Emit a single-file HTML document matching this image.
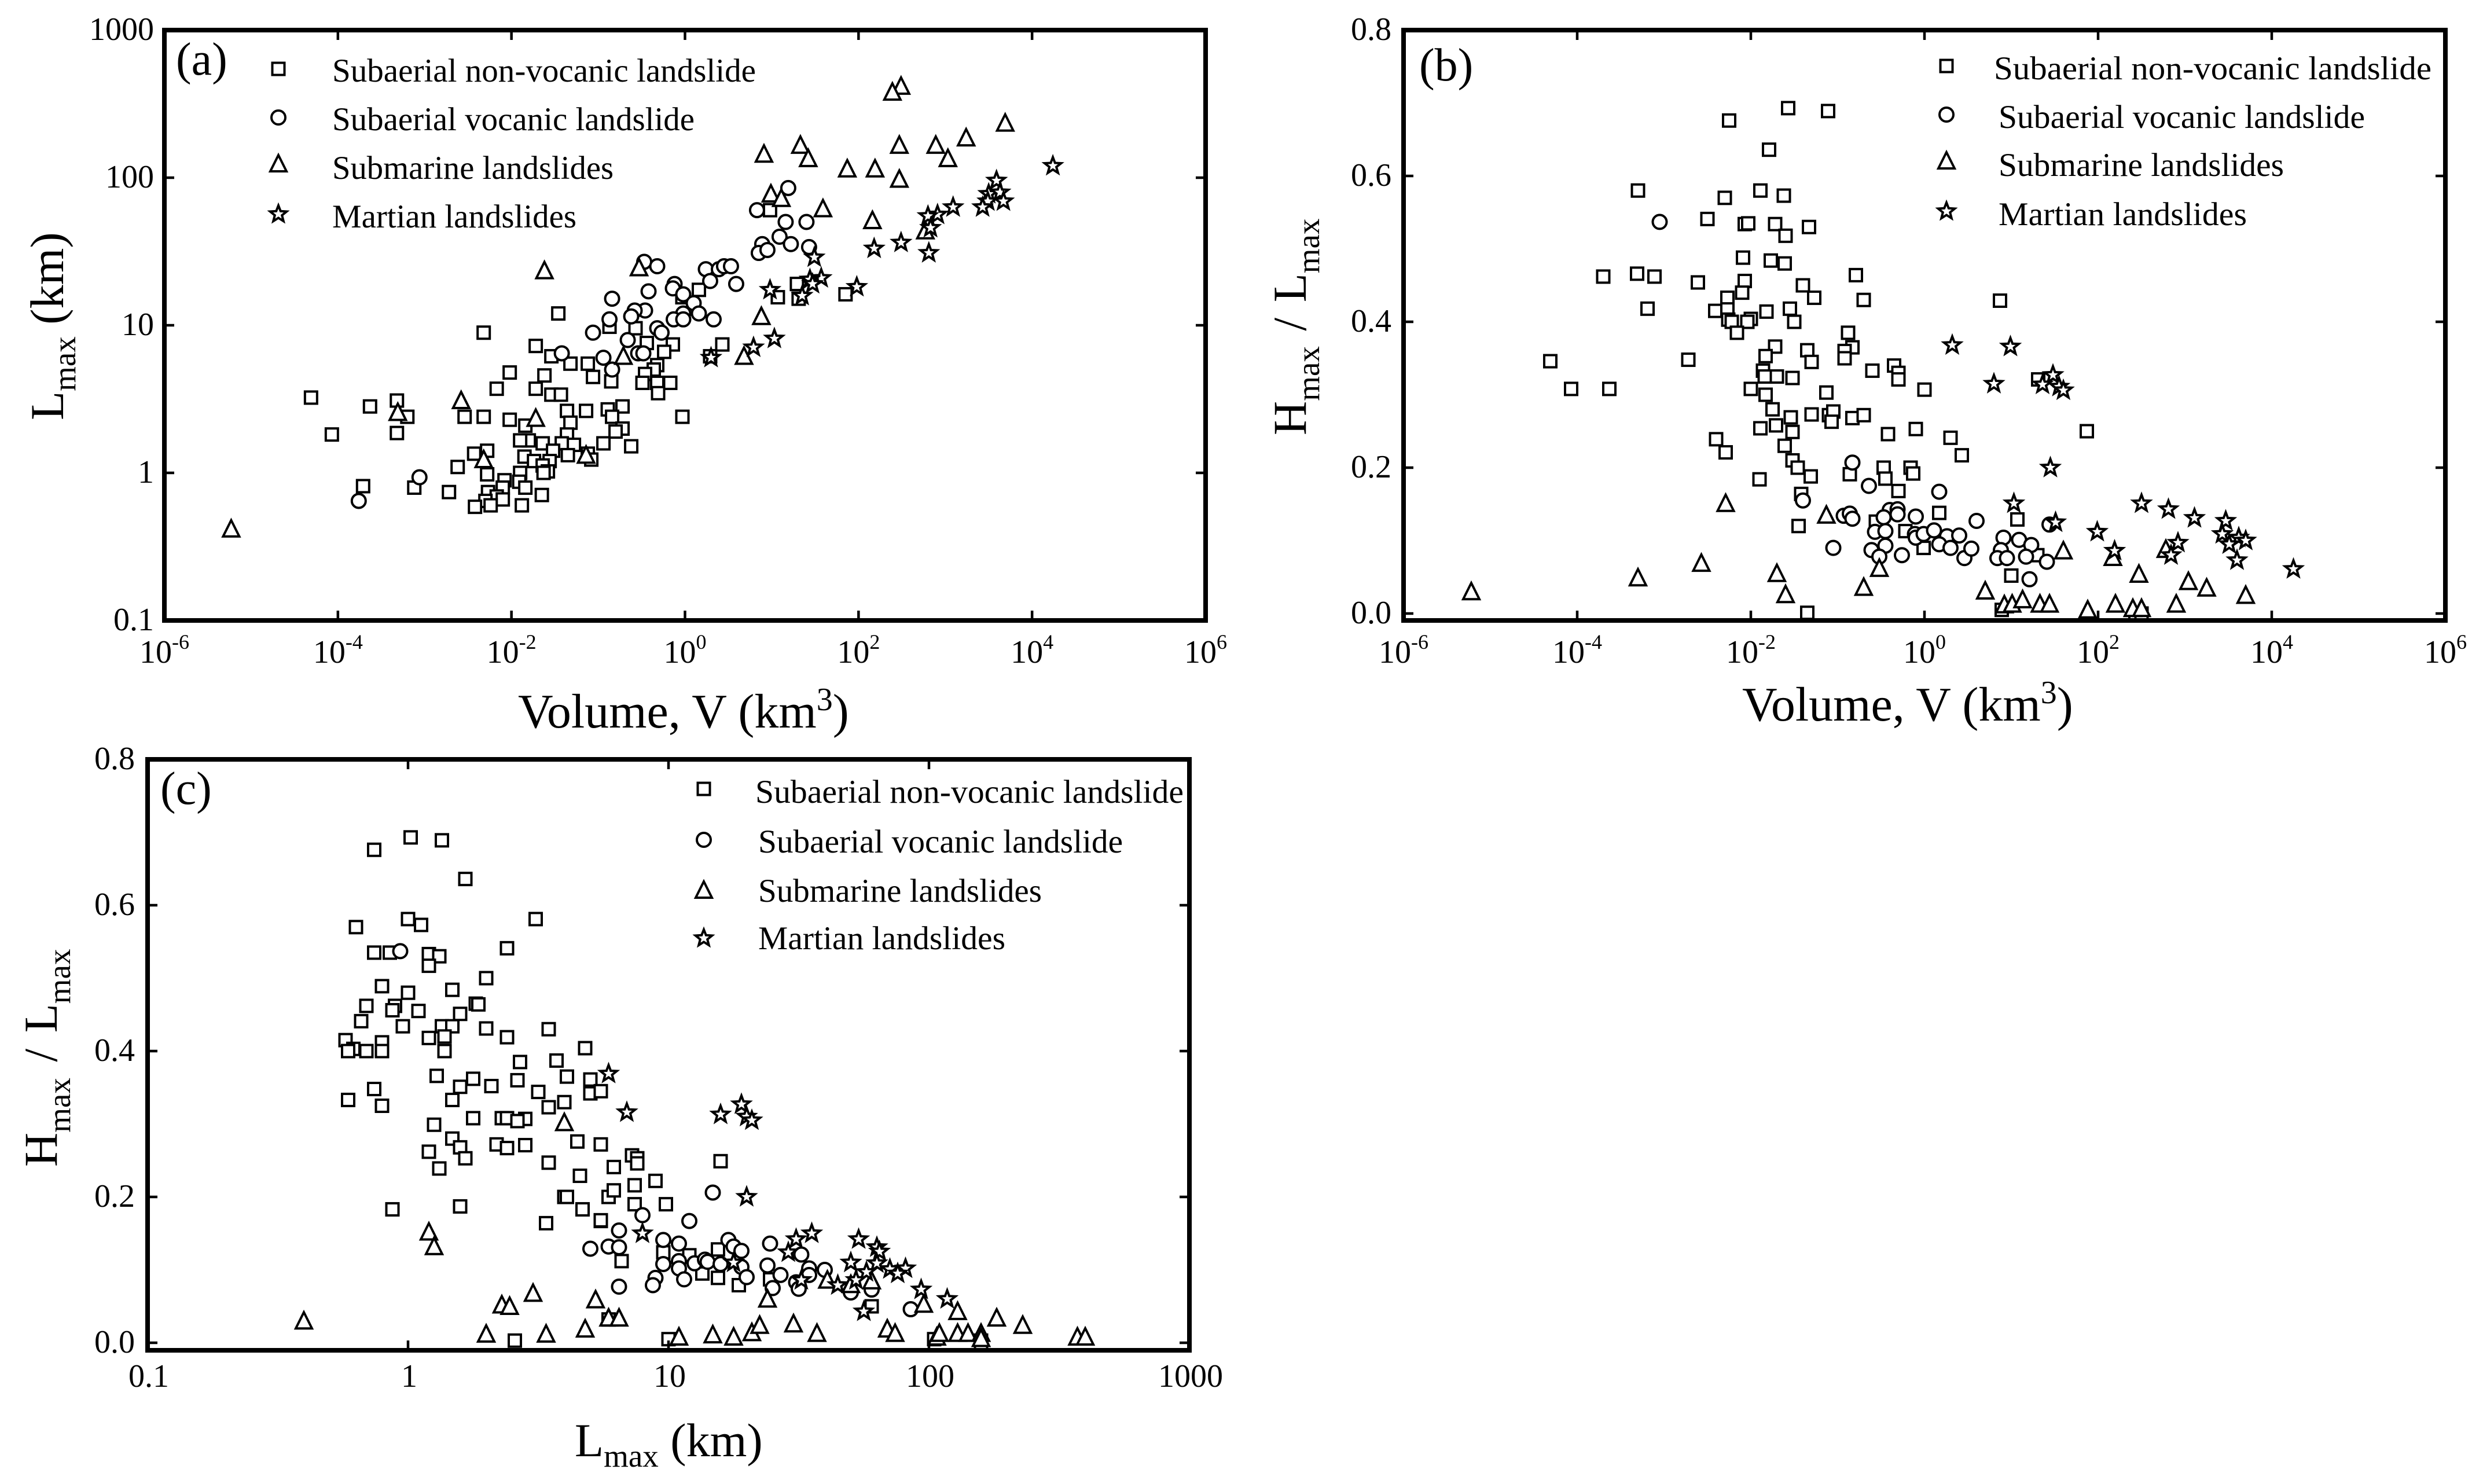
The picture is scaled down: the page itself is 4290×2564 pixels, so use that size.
<!DOCTYPE html>
<html lang="en">
<head>
<meta charset="utf-8">
<title>Landslide runout scatter panels</title>
<style>
html,body{margin:0;padding:0;background:#fff;}
svg{display:block;}
text{font-family:"Liberation Serif",serif;fill:#000;}
.frame{fill:none;stroke:#000;stroke-width:8;}
.lg{fill:#fff;stroke:#000;stroke-width:4;}
</style>
</head>
<body>
<svg id="chart" xmlns="http://www.w3.org/2000/svg" width="4290" height="2564" viewBox="0 0 4290 2564">
<rect x="0" y="0" width="4290" height="2564" fill="#fff"/>

<g id="panel-a"></g>
<g id="panel-b"></g>
<g id="panel-c"></g>

<!-- Panel a annotations -->
<g>
<text x="304" y="129" font-size="80">(a)</text>
<rect class="lg" x="470.5" y="108.5" width="21" height="21"/>
<circle class="lg" cx="481" cy="203" r="12"/>
<path class="lg" d="M481 268L495 296L467 296Z"/>
<path class="lg" d="M481 355L484.8 364.8L495.3 365.4L487.2 372L489.8 382.1L481 376.5L472.2 382.1L474.8 372L466.7 365.4L477.2 364.8Z"/>
<text x="574" y="141" font-size="57" textLength="732" lengthAdjust="spacingAndGlyphs">Subaerial non-vocanic landslide</text>
<text x="574" y="225" font-size="57" textLength="626" lengthAdjust="spacingAndGlyphs">Subaerial vocanic landslide</text>
<text x="574" y="309" font-size="57" textLength="486" lengthAdjust="spacingAndGlyphs">Submarine landslides</text>
<text x="574" y="393" font-size="57" textLength="422" lengthAdjust="spacingAndGlyphs">Martian landslides</text>
<text x="895" y="1257" font-size="84">Volume, V (km<tspan font-size="56" dy="-30">3</tspan><tspan dy="30">)</tspan></text>
<text x="109" y="726" font-size="82" transform="rotate(-90 109 726)">L<tspan font-size="55" dy="21">max</tspan><tspan dy="-21"> (km)</tspan></text>
</g>

<!-- Panel b annotations -->
<g>
<text x="2452" y="139" font-size="80">(b)</text>
<rect class="lg" x="3352.5" y="103.5" width="21" height="21"/>
<circle class="lg" cx="3363" cy="198" r="12"/>
<path class="lg" d="M3363 263L3377 291L3349 291Z"/>
<path class="lg" d="M3363 350L3366.8 359.8L3377.3 360.4L3369.2 367L3371.8 377.1L3363 371.5L3354.2 377.1L3356.8 367L3348.7 360.4L3359.2 359.8Z"/>
<text x="3445" y="137" font-size="57" textLength="756" lengthAdjust="spacingAndGlyphs">Subaerial non-vocanic landslide</text>
<text x="3453" y="221" font-size="57" textLength="633" lengthAdjust="spacingAndGlyphs">Subaerial vocanic landslide</text>
<text x="3453" y="304" font-size="57" textLength="493" lengthAdjust="spacingAndGlyphs">Submarine landslides</text>
<text x="3453" y="389" font-size="57" textLength="429" lengthAdjust="spacingAndGlyphs">Martian landslides</text>
<text x="3010" y="1245" font-size="84">Volume, V (km<tspan font-size="56" dy="-30">3</tspan><tspan dy="30">)</tspan></text>
<text x="2256" y="752" font-size="82" word-spacing="6" transform="rotate(-90 2256 752)">H<tspan font-size="55" dy="23">max</tspan><tspan dy="-23"> / L</tspan><tspan font-size="55" dy="23">max</tspan></text>
</g>

<!-- Panel c annotations -->
<g>
<text x="277" y="1389" font-size="80">(c)</text>
<g transform="translate(-8,-4)">
<rect class="lg" x="1213.5" y="1356.5" width="21" height="21"/>
<circle class="lg" cx="1224" cy="1455" r="12"/>
<path class="lg" d="M1224 1527L1238 1555L1210 1555Z"/>
<path class="lg" d="M1224 1610L1227.8 1619.8L1238.3 1620.4L1230.2 1627L1232.8 1637.1L1224 1631.5L1215.2 1637.1L1217.8 1627L1209.7 1620.4L1220.2 1619.8Z"/>
</g>
<text x="1305" y="1387" font-size="57" textLength="740" lengthAdjust="spacingAndGlyphs">Subaerial non-vocanic landslide</text>
<text x="1310" y="1473" font-size="57" textLength="630" lengthAdjust="spacingAndGlyphs">Subaerial vocanic landslide</text>
<text x="1310" y="1558" font-size="57" textLength="490" lengthAdjust="spacingAndGlyphs">Submarine landslides</text>
<text x="1310" y="1640" font-size="57" textLength="427" lengthAdjust="spacingAndGlyphs">Martian landslides</text>
<text x="993" y="2516" font-size="82">L<tspan font-size="55" dy="18">max</tspan><tspan dy="-18"> (km)</tspan></text>
<text x="98" y="2016" font-size="82" word-spacing="7" transform="rotate(-90 98 2016)">H<tspan font-size="55" dy="23">max</tspan><tspan dy="-23"> / L</tspan><tspan font-size="55" dy="23">max</tspan></text>
</g>
</svg>

<script>
// Tick data
const volumeExponents = [-6, -4, -2, 0, 2, 4, 6];
const lengthTickExponents = [3, 2, 1, 0, -1];
const lengthTickLabels = ['1000', '100', '10', '1', '0.1'];
const ratioTicks = [0.8, 0.6, 0.4, 0.2, 0.0];
const ratioTickLabels = ['0.8', '0.6', '0.4', '0.2', '0.0'];

// Panel (a): log10 Volume (km3) vs log10 Lmax (km)
const aSquareLogV = [-2.32,-1.46,-1.72,-1.54,-1.32,-1.12,-2.02,-1.62,-2.17,-1.72,-1.54,-1.43,-1.06,-0.85,-0.57,-0.87,-0.44,-0.14,-0.24,-0.32,-0.36,-0.46,-0.49,-0.32,-0.17,-0.31,0.43,0.29,0.16,-0.03,
-2.54,-2.32,-2.02,-1.84,-1.36,-1.14,-0.89,-0.72,-0.84,-1.32,-0.72,-0.80,-0.03,-0.94,-0.62,-1.36,-1.42,-1.64,-1.80,-1.90,-1.28,-1.52,-1.35,-1.85,-1.74,-1.56,-1.64,-1.58,-1.63,-1.90,-1.12,-1.08,-2.43,-2.28,-2.62,-2.28,-2.72,-2.08,-2.10,-1.91,-1.84,-1.65,-2.27,-2.17,-2.10,-2.30,-2.24,-2.42,-1.88,
-4.31,-3.63,-3.32,-3.20,-4.07,-3.32,-3.71,-3.12,
0.98,1.07,1.29,1.31,1.85];
const aSquareLogL = [0.95,1.08,0.86,0.79,0.74,0.74,0.68,0.66,0.57,0.57,0.53,0.53,0.65,0.62,0.98,0.99,0.88,0.87,0.82,0.73,0.70,0.67,0.61,0.61,0.61,0.54,0.87,0.79,1.24,1.19,
0.38,0.38,0.36,0.32,0.42,0.42,0.43,0.45,0.38,0.34,0.30,0.28,0.38,0.20,0.18,0.26,0.20,0.20,0.22,0.22,0.19,0.15,0.12,0.11,0.08,0.08,0.05,0.01,0.00,0.00,0.13,0.09,0.13,0.15,0.04,-0.01,-0.13,-0.05,-0.10,-0.06,-0.10,-0.15,-0.13,-0.16,-0.18,-0.19,-0.22,-0.23,-0.22,
0.51,0.45,0.49,0.38,0.26,0.27,-0.09,-0.10,
1.78,1.19,1.28,1.18,1.21];
const aCircleLogV = [-0.84,-0.42,-0.47,-0.32,0.24,0.39,0.45,0.53,0.29,0.59,-0.12,-0.14,-0.02,0.10,-0.02,0.16,-0.13,-0.02,0.33,-0.46,-0.58,-0.62,-0.87,-1.06,-0.32,-0.27,-0.66,-0.54,-0.48,-0.94,-0.84,-1.42,
1.19,0.83,1.16,1.40,1.09,1.22,0.89,0.85,0.95,1.43,-3.76,-3.06];
const aCircleLogL = [1.18,1.23,1.43,1.40,1.38,1.38,1.40,1.40,1.30,1.28,1.28,1.25,1.21,1.15,1.08,1.08,1.04,1.04,1.04,1.10,1.10,1.06,1.04,0.95,0.98,0.95,0.90,0.81,0.81,0.78,0.70,0.81,
1.93,1.78,1.70,1.70,1.60,1.55,1.55,1.49,1.51,1.53,-0.19,-0.03];
const aTriangleLogV = [2.49,2.39,3.69,3.24,1.33,2.47,2.89,0.91,1.42,3.03,1.87,2.19,2.47,0.99,1.11,1.59,2.16,2.77,-0.53,0.88,0.68,-0.71,-1.62,-2.58,-1.72,-2.32,-1.14,-5.23,-3.31];
const aTriangleLogL = [2.62,2.58,2.37,2.27,2.22,2.22,2.22,2.16,2.13,2.13,2.06,2.06,1.99,1.89,1.86,1.79,1.71,1.64,1.39,1.06,0.79,0.79,1.37,0.49,0.37,0.09,0.12,-0.38,0.41];
const aStarLogV = [4.24,3.59,3.50,3.63,3.67,3.49,3.43,3.09,2.91,2.80,2.83,2.49,2.18,2.81,1.49,1.57,1.44,1.47,1.98,0.98,1.35,1.03,0.79,0.30];
const aStarLogL = [2.08,1.98,1.89,1.90,1.84,1.84,1.80,1.80,1.75,1.74,1.66,1.56,1.52,1.49,1.46,1.32,1.31,1.28,1.26,1.24,1.20,0.91,0.85,0.78];

// Panel (b): log10 Volume (km3) vs Hmax / Lmax
const bSquareLogV = [-1.57,-1.11,-2.25,-1.79,-3.30,-1.89,-2.30,-1.62,-2.50,-2.07,-2.03,-1.72,-1.33,-1.60,-2.09,-1.77,-1.61,-3.70,-3.31,-3.11,-2.61,-2.07,-0.79,-1.40,-2.10,-1.27,-0.70,-2.27,-3.19,-1.55,-1.82,-2.41,-2.27,-1.50,-2.00,-2.04,-2.26,-2.22,-2.16,-0.88,-0.83,-0.92,-0.92,-1.72,-1.83,-1.35,-1.30,-0.60,-0.35,-0.30,-0.30,-1.86,-1.84,-1.70,-1.52,-2.00,-1.83,-1.13,0.00,-1.75,-1.54,-1.30,-1.10,-1.05,-0.83,-0.70,
-1.07,-1.89,-1.71,-1.52,-1.61,-1.52,-1.46,-1.31,-1.90,-1.42,-1.45,-0.86,-0.42,-0.10,0.30,0.43,-0.47,-0.45,-0.30,-0.16,-0.13,0.17,-0.56,-0.22,-0.01,-1.35,
0.87,1.31,1.87,1.07,1.30,1.00,0.89,2.43,2.50,
-4.31,-4.07,-3.63,-2.72,-2.40,-2.29];
const bSquareRatio = [0.693,0.689,0.676,0.636,0.580,0.580,0.570,0.573,0.541,0.534,0.535,0.534,0.530,0.518,0.488,0.484,0.480,0.462,0.466,0.462,0.454,0.456,0.464,0.450,0.440,0.433,0.430,0.433,0.418,0.418,0.414,0.415,0.417,0.400,0.404,0.400,0.403,0.400,0.385,0.385,0.365,0.360,0.350,0.366,0.353,0.361,0.345,0.333,0.340,0.330,0.321,0.333,0.325,0.325,0.323,0.308,0.300,0.303,0.307,0.280,0.269,0.273,0.272,0.277,0.268,0.272,
0.263,0.254,0.258,0.249,0.230,0.210,0.200,0.188,0.184,0.164,0.120,0.191,0.246,0.253,0.241,0.217,0.200,0.185,0.168,0.200,0.192,0.138,0.126,0.113,0.090,0.001,
0.429,0.321,0.250,0.129,0.080,0.052,0.005,0.000,0.000,
0.346,0.308,0.308,0.348,0.239,0.221];
const bCircleLogV = [-3.05,-0.83,-1.40,-0.64,0.17,-0.93,-0.86,-0.83,-0.40,-0.31,-0.31,-0.47,-0.10,-0.57,-0.45,-0.11,-0.10,-0.01,0.11,0.26,0.40,0.17,0.30,0.46,-0.45,-0.61,-0.52,-0.26,-1.05,
0.60,0.54,0.91,1.09,1.23,0.88,0.84,0.95,1.17,1.41,1.21,1.44];
const bCircleRatio = [0.537,0.207,0.155,0.175,0.167,0.134,0.137,0.130,0.142,0.143,0.136,0.132,0.133,0.112,0.113,0.109,0.104,0.109,0.114,0.106,0.107,0.095,0.090,0.076,0.093,0.087,0.078,0.080,0.090,
0.127,0.089,0.104,0.101,0.094,0.087,0.076,0.076,0.078,0.071,0.047,0.122];
const bTriangleLogV = [-5.22,-3.30,-2.57,-2.29,-1.13,-1.70,-1.60,-0.70,-0.52,1.60,0.70,0.92,1.01,1.13,1.33,1.44,1.88,2.20,2.40,2.50,2.17,2.47,2.78,2.90,3.04,3.25,3.70];
const bTriangleRatio = [0.030,0.049,0.069,0.151,0.135,0.055,0.026,0.036,0.062,0.086,0.031,0.012,0.013,0.019,0.013,0.013,0.005,0.013,0.007,0.007,0.077,0.054,0.088,0.013,0.044,0.035,0.025];
const bStarLogV = [0.32,0.99,0.80,1.48,1.36,1.55,1.60,1.45,1.03,1.51,1.99,2.19,2.50,2.81,3.11,3.47,3.43,3.62,3.70,3.51,2.92,2.84,3.60,4.25];
const bStarRatio = [0.368,0.366,0.315,0.327,0.314,0.311,0.306,0.200,0.151,0.125,0.112,0.086,0.151,0.143,0.131,0.127,0.109,0.104,0.100,0.095,0.097,0.080,0.073,0.061];

// Panel (c): log10 Lmax (km) vs Hmax / Lmax
const cSquareLogL = [0.01,0.13,-0.13,0.22,0.00,0.05,-0.20,0.49,-0.13,-0.07,0.08,0.12,0.08,0.38,0.30,-0.10,0.00,0.17,-0.16,-0.05,-0.06,0.04,0.26,0.27,0.20,-0.18,-0.02,0.13,0.17,0.30,0.54,0.38,0.08,0.14,0.14,-0.24,-0.21,-0.23,-0.16,-0.10,-0.10,0.68,0.43,0.57,0.11,0.25,0.42,0.61,0.70,0.20,0.32,-0.13,0.50,-0.23,-0.10,0.17,0.70,0.74,0.54,0.60,
0.10,0.25,0.36,0.38,0.45,0.42,0.17,0.20,0.22,0.08,0.12,0.34,0.38,0.45,0.54,0.65,0.74,0.66,0.79,0.60,0.61,0.77,0.79,0.67,0.74,0.53,-0.06,0.20,
0.86,0.88,0.88,1.20,0.95,0.87,0.87,0.99,0.74,0.98,0.82,1.08,1.19,1.19,1.13,1.27,1.39,0.77,1.00,1.78,2.02,2.20,2.20,0.41];
const cSquareRatio = [0.693,0.689,0.676,0.636,0.581,0.573,0.570,0.581,0.535,0.535,0.533,0.530,0.517,0.541,0.500,0.489,0.480,0.484,0.462,0.462,0.456,0.455,0.465,0.464,0.451,0.441,0.434,0.434,0.434,0.431,0.430,0.419,0.418,0.420,0.400,0.415,0.403,0.400,0.400,0.412,0.400,0.404,0.385,0.387,0.366,0.362,0.360,0.365,0.361,0.351,0.352,0.348,0.344,0.333,0.325,0.333,0.342,0.345,0.323,0.330,
0.299,0.308,0.308,0.308,0.307,0.304,0.280,0.268,0.253,0.262,0.239,0.272,0.267,0.271,0.247,0.276,0.272,0.229,0.241,0.200,0.200,0.200,0.209,0.183,0.167,0.164,0.183,0.187,
0.257,0.253,0.246,0.249,0.222,0.216,0.190,0.190,0.168,0.124,0.112,0.120,0.128,0.089,0.095,0.079,0.087,0.032,0.005,0.050,0.005,0.003,-0.003,0.003];
const cCircleLogL = [-0.03,1.17,0.90,1.08,0.81,0.77,0.81,0.98,1.04,1.23,1.25,1.28,1.39,0.98,1.04,1.10,1.14,1.15,1.20,1.28,1.38,1.51,1.54,1.54,1.43,1.30,1.04,1.06,0.95,0.94,0.81,1.49,1.50,1.40,0.70,1.60,1.70,1.78,1.93];
const cCircleRatio = [0.537,0.206,0.175,0.167,0.154,0.132,0.131,0.141,0.136,0.141,0.132,0.126,0.136,0.108,0.112,0.109,0.114,0.111,0.108,0.104,0.106,0.121,0.102,0.093,0.093,0.090,0.102,0.087,0.089,0.079,0.077,0.083,0.074,0.075,0.129,0.100,0.069,0.073,0.046];
const cTriangleLogL = [-0.40,0.60,0.08,0.10,0.72,0.77,0.81,0.68,1.04,1.17,1.25,1.32,1.35,1.38,1.48,1.57,1.61,1.70,1.78,1.98,2.11,2.26,2.36,1.84,1.87,2.03,2.04,2.11,2.15,2.20,2.20,2.57,2.60,0.30,0.36,0.39,0.48,0.53];
const cTriangleRatio = [0.030,0.302,0.152,0.132,0.059,0.034,0.034,0.019,0.008,0.011,0.008,0.014,0.024,0.060,0.026,0.013,0.086,0.080,0.085,0.053,0.043,0.034,0.024,0.019,0.013,0.008,0.013,0.013,0.013,0.013,0.006,0.008,0.008,0.012,0.052,0.050,0.068,0.012];
const cStarLogL = [0.77,0.84,1.28,1.20,1.30,1.32,1.30,0.90,1.49,1.55,1.46,1.25,1.51,1.73,1.80,1.81,1.70,1.80,1.85,1.91,1.88,1.76,1.72,1.65,1.97,2.07,1.75];
const cStarRatio = [0.369,0.316,0.327,0.313,0.310,0.305,0.200,0.150,0.142,0.150,0.124,0.110,0.086,0.142,0.131,0.125,0.110,0.109,0.101,0.102,0.095,0.097,0.086,0.079,0.073,0.060,0.043];

const SVG_NS = 'http://www.w3.org/2000/svg';

const layoutA = { left: 284, right: 2083, top: 52, bottom: 1072, xMin: -6, xMax: 6, yMin: -1, yMax: 3 };
const layoutB = { left: 2425, right: 4225, top: 52, bottom: 1072, xMin: -6, xMax: 6, yMin: -0.0095, yMax: 0.8 };
const layoutC = { left: 255, right: 2055, top: 1312, bottom: 2333, xMin: -1, xMax: 3, yMin: -0.0103, yMax: 0.8 };

function xScale(p, v) {
  return p.left + (v - p.xMin) / (p.xMax - p.xMin) * (p.right - p.left);
}
function yScale(p, v) {
  return p.bottom - (v - p.yMin) / (p.yMax - p.yMin) * (p.bottom - p.top);
}
function make(tag) {
  return document.createElementNS(SVG_NS, tag);
}

function markSquare(x, y) {
  const el = make('rect');
  el.setAttribute('x', x - 10.5);
  el.setAttribute('y', y - 10.5);
  el.setAttribute('width', 21);
  el.setAttribute('height', 21);
  return el;
}
function markCircle(x, y) {
  const el = make('circle');
  el.setAttribute('cx', x);
  el.setAttribute('cy', y);
  el.setAttribute('r', 12);
  return el;
}
function markTriangle(x, y) {
  const el = make('path');
  el.setAttribute('d', 'M' + x + ' ' + (y - 15) + 'L' + (x + 14) + ' ' + (y + 13) + 'L' + (x - 14) + ' ' + (y + 13) + 'Z');
  return el;
}
function markStar(x, y) {
  const el = make('path');
  let d = '';
  for (let i = 0; i < 10; i++) {
    const r = i % 2 === 0 ? 15 : 6.3;
    const a = -Math.PI / 2 + i * Math.PI / 5;
    d += (i === 0 ? 'M' : 'L') + (x + r * Math.cos(a)).toFixed(1) + ' ' + (y + r * Math.sin(a)).toFixed(1);
  }
  el.setAttribute('d', d + 'Z');
  return el;
}

function drawSeries(group, p, xs, ys, maker, name) {
  for (let i = 0; i < xs.length; i++) {
    const el = maker(xScale(p, xs[i]), yScale(p, ys[i]));
    el.setAttribute('fill', '#fff');
    el.setAttribute('stroke', '#000');
    el.setAttribute('stroke-width', 4);
    
    
    group.appendChild(el);
  }
}

function drawTick(group, x1, y1, x2, y2, name) {
  const el = make('line');
  el.setAttribute('x1', x1);
  el.setAttribute('y1', y1);
  el.setAttribute('x2', x2);
  el.setAttribute('y2', y2);
  el.setAttribute('stroke', '#000');
  el.setAttribute('stroke-width', 4.5);
  
  
  group.appendChild(el);
}

function drawFrame(group, p) {
  const el = make('rect');
  el.setAttribute('class', 'frame');
  el.setAttribute('x', p.left);
  el.setAttribute('y', p.top);
  el.setAttribute('width', p.right - p.left);
  el.setAttribute('height', p.bottom - p.top);
  
  
  group.appendChild(el);
}

function drawPlainLabel(group, str, x, y, anchor, name) {
  const el = make('text');
  el.setAttribute('x', x);
  el.setAttribute('y', y);
  el.setAttribute('font-size', 56);
  el.setAttribute('text-anchor', anchor);
  
  
  el.textContent = str;
  group.appendChild(el);
}

function drawPowerLabel(group, exponent, x, y) {
  const el = make('text');
  el.setAttribute('x', x);
  el.setAttribute('y', y);
  el.setAttribute('font-size', 56);
  el.setAttribute('text-anchor', 'middle');
  
  
  el.appendChild(document.createTextNode('10'));
  const sup = make('tspan');
  sup.setAttribute('font-size', 36);
  sup.setAttribute('dy', -24);
  sup.textContent = String(exponent);
  el.appendChild(sup);
  group.appendChild(el);
}

function drawVolumeAxis(group, p) {
  volumeExponents.forEach(function (e) {
    const x = xScale(p, e);
    if (e !== p.xMin && e !== p.xMax) {
      drawTick(group, x, p.top, x, p.top + 17, 'x-tick-top');
      drawTick(group, x, p.bottom, x, p.bottom - 17, 'x-tick-bottom');
    }
    drawPowerLabel(group, e, x, 1145);
  });
}

function drawYTicks(group, p, values, labels, labelRight, offset) {
  values.forEach(function (v, i) {
    const y = yScale(p, v);
    if (y > p.top + 2 && y < p.bottom - 2) {
      drawTick(group, p.left, y, p.left + 17, y, 'y-tick-left');
      drawTick(group, p.right, y, p.right - 17, y, 'y-tick-right');
    }
    drawPlainLabel(group, labels[i], labelRight, y + offset, 'end', 'y-tick-label');
  });
}

const groupA = document.getElementById('panel-a');
const groupB = document.getElementById('panel-b');
const groupC = document.getElementById('panel-c');

// Panel a
drawSeries(groupA, layoutA, aSquareLogV, aSquareLogL, markSquare, 'subaerial-non-volcanic-point');
drawSeries(groupA, layoutA, aCircleLogV, aCircleLogL, markCircle, 'subaerial-volcanic-point');
drawSeries(groupA, layoutA, aTriangleLogV, aTriangleLogL, markTriangle, 'submarine-point');
drawSeries(groupA, layoutA, aStarLogV, aStarLogL, markStar, 'martian-point');
drawFrame(groupA, layoutA);
drawVolumeAxis(groupA, layoutA);
drawYTicks(groupA, layoutA, lengthTickExponents, lengthTickLabels, 266, 17);

// Panel b
drawSeries(groupB, layoutB, bSquareLogV, bSquareRatio, markSquare, 'subaerial-non-volcanic-point');
drawSeries(groupB, layoutB, bCircleLogV, bCircleRatio, markCircle, 'subaerial-volcanic-point');
drawSeries(groupB, layoutB, bTriangleLogV, bTriangleRatio, markTriangle, 'submarine-point');
drawSeries(groupB, layoutB, bStarLogV, bStarRatio, markStar, 'martian-point');
drawFrame(groupB, layoutB);
drawVolumeAxis(groupB, layoutB);
drawYTicks(groupB, layoutB, ratioTicks, ratioTickLabels, 2404, 17);

// Panel c
drawSeries(groupC, layoutC, cSquareLogL, cSquareRatio, markSquare, 'subaerial-non-volcanic-point');
drawSeries(groupC, layoutC, cCircleLogL, cCircleRatio, markCircle, 'subaerial-volcanic-point');
drawSeries(groupC, layoutC, cTriangleLogL, cTriangleRatio, markTriangle, 'submarine-point');
drawSeries(groupC, layoutC, cStarLogL, cStarRatio, markStar, 'martian-point');
drawFrame(groupC, layoutC);
drawYTicks(groupC, layoutC, ratioTicks, ratioTickLabels, 233, 17);
lengthTickExponents.forEach(function (e, i) {
  const x = xScale(layoutC, e);
  if (e !== layoutC.xMin && e !== layoutC.xMax) {
    drawTick(groupC, x, layoutC.top, x, layoutC.top + 17, 'x-tick-top');
    drawTick(groupC, x, layoutC.bottom, x, layoutC.bottom - 17, 'x-tick-bottom');
  }
  drawPlainLabel(groupC, lengthTickLabels[i], x + 2, 2396, 'middle', 'x-tick-label');
});
</script>
</body>
</html>
